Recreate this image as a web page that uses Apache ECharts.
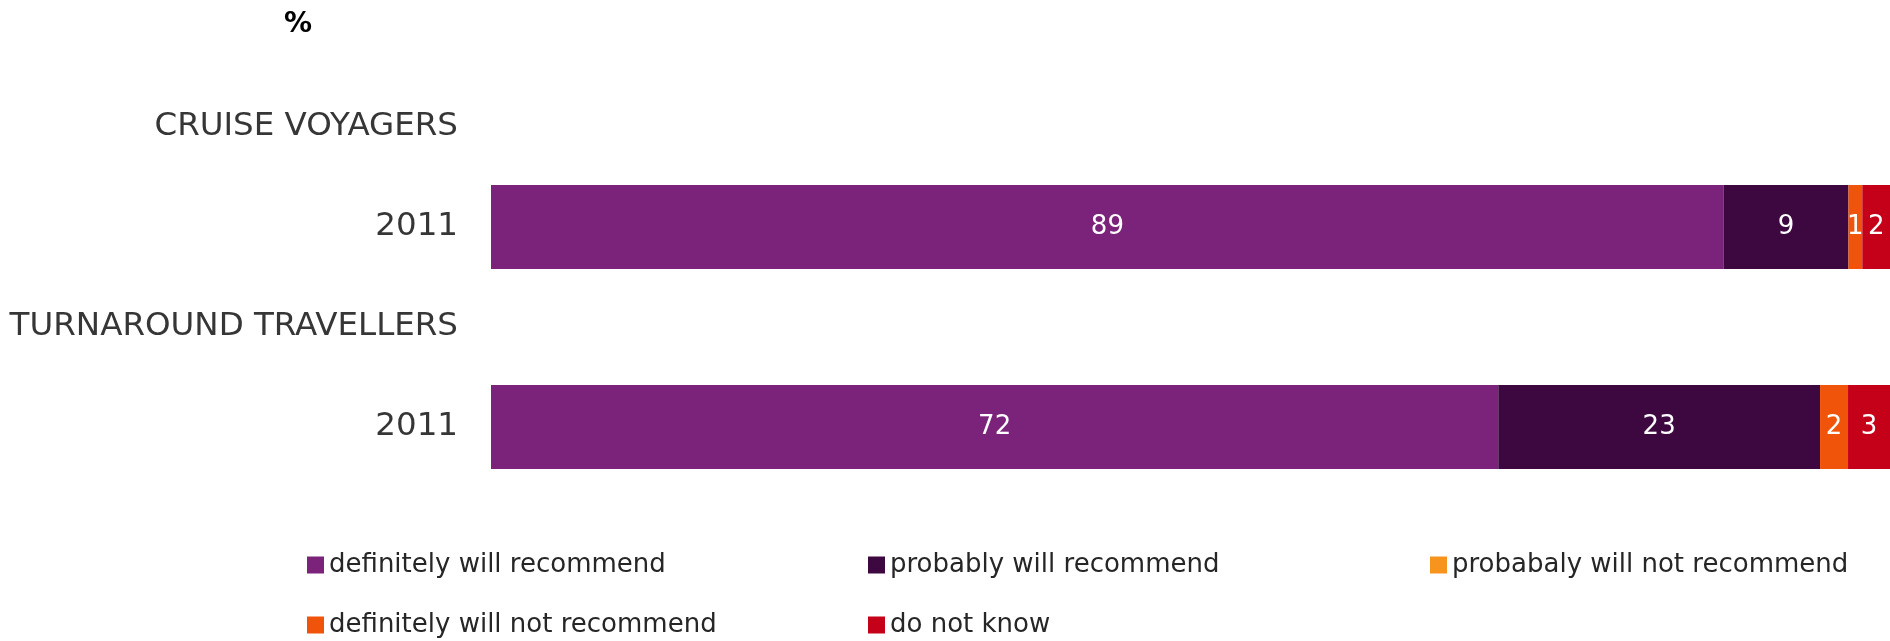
<!DOCTYPE html>
<html>
<head>
<meta charset="utf-8">
<title>Recommendation intention</title>
<script src="https://cdn.jsdelivr.net/npm/echarts@6/dist/echarts.min.js"></script>
<style>
  html, body { margin: 0; padding: 0; background: #ffffff; }
  #chart { width: 1890px; height: 641px; }
</style>
</head>
<body>
<div id="chart"></div>
<script>
// Row labels (group headers carry no bar)
const categories = ['CRUISE VOYAGERS', '2011', 'TURNAROUND TRAVELLERS', '2011'];

// Answer shares, % of respondents
const seriesNames = [
  'definitely will recommend',
  'probably will recommend',
  'probabaly will not recommend',
  'definitely will not recommend',
  'do not know'
];
const definitelyRecommend = [null, 89, null, 72];
const probablyRecommend = [null, 9, null, 23];
const probablyNotRecommend = [null, 0, null, 0];
const definitelyNotRecommend = [null, 1, null, 2];
const doNotKnow = [null, 2, null, 3];

const seriesValues = [
  definitelyRecommend,
  probablyRecommend,
  probablyNotRecommend,
  definitelyNotRecommend,
  doNotKnow
];
const colors = ['#7B237B', '#3D0840', '#F7941E', '#F0540A', '#C5011A'];

const FONT = '"DejaVu Sans", Verdana, sans-serif';

// Each bar is a 100% stack: it gets its own hidden value axis whose
// maximum is the bar's own total, so every bar spans the full width.
const barRows = categories
  .map((c, idx) => idx)
  .filter(idx => seriesValues.some(vals => vals[idx] != null));
const rowTotals = barRows.map(idx =>
  seriesValues.reduce((s, vals) => s + (vals[idx] || 0), 0)
);

const chart = echarts.init(document.getElementById('chart'), null, { renderer: 'canvas' });

// Legend laid out as a 3-column grid, one component per entry
const legendSlots = [
  { left: 307, top: 552 },
  { left: 868, top: 552 },
  { left: 1430, top: 552 },
  { left: 307, top: 612 },
  { left: 868, top: 612 }
];

const series = [];
barRows.forEach((rowIdx, axisIdx) => {
  seriesNames.forEach((name, i) => {
    series.push({
      name: name,
      type: 'bar',
      stack: 'row' + rowIdx,
      xAxisIndex: axisIdx,
      yAxisIndex: 0,
      barWidth: 84,
      barGap: '-100%',
      data: seriesValues[i].map((v, k) => (k === rowIdx ? v : null)),
      itemStyle: { color: colors[i] },
      label: {
        show: true,
        position: 'inside',
        color: '#ffffff',
        fontFamily: FONT,
        fontSize: 26,
        formatter: p => (p.value ? String(p.value) : '')
      }
    });
  });
});

const option = {
  animation: false,
  backgroundColor: '#ffffff',
  color: colors,
  title: {
    text: '%',
    left: 284,
    top: 11,
    padding: 0,
    textStyle: { fontFamily: FONT, fontSize: 28, fontWeight: 'bold', color: '#000000' }
  },
  legend: seriesNames.map((name, i) => ({
    data: [name],
    left: legendSlots[i].left,
    top: legendSlots[i].top,
    padding: 0,
    itemWidth: 17,
    itemHeight: 17,
    icon: 'rect',
    selectedMode: false,
    textStyle: { fontFamily: FONT, fontSize: 26, color: '#262626', lineHeight: 26 }
  })),
  grid: { left: 491, right: 0, top: 77, height: 400, containLabel: false },
  xAxis: rowTotals.map(total => ({
    type: 'value',
    min: 0,
    max: total,
    show: false
  })),
  yAxis: {
    type: 'category',
    data: categories,
    inverse: true,
    axisLine: { show: false },
    axisTick: { show: false },
    splitLine: { show: false },
    axisLabel: {
      fontFamily: FONT,
      fontSize: 32.5,
      color: '#363636',
      margin: 33
    }
  },
  series: series
};

chart.setOption(option);
</script>
</body>
</html>
